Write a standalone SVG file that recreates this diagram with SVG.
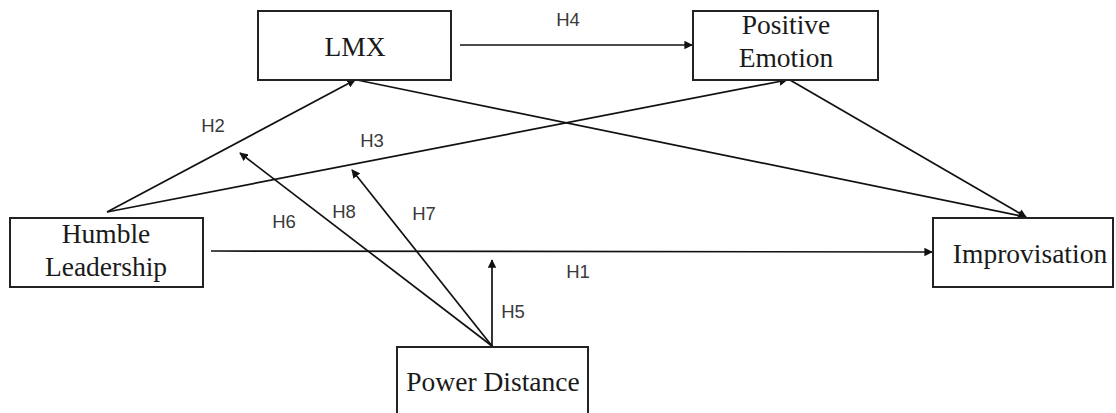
<svg xmlns="http://www.w3.org/2000/svg" width="1116" height="413" viewBox="0 0 1116 413">
<style>
.box{fill:#fff;stroke:#222;stroke-width:2}
.t{font-family:"Liberation Serif","Times New Roman",serif;font-size:27.5px;fill:#1a1a1a;text-anchor:middle}
.lbl{font-family:"Liberation Sans",Arial,sans-serif;font-size:18.5px;fill:#3a3a3a;text-anchor:middle}
.c{stroke:#111;stroke-width:1.7;fill:none;marker-end:url(#ah)}
</style>
<defs>
<marker id="ah" viewBox="0 0 10 10" refX="9" refY="5" markerWidth="5" markerHeight="5" orient="auto" markerUnits="strokeWidth">
<path d="M0,0 L10,5 L0,10 z" fill="#111"/>
</marker>
</defs>
<rect width="1116" height="413" fill="#fff"/>
<g id="connectors">
<line class="c" x1="460" y1="45" x2="692" y2="45"/>
<line class="c" x1="107" y1="212" x2="355" y2="80"/>
<line class="c" x1="107" y1="212" x2="787" y2="80"/>
<line class="c" x1="357" y1="80" x2="1026" y2="217"/>
<line class="c" x1="790" y1="80" x2="1026" y2="217"/>
<line class="c" x1="211" y1="251" x2="932" y2="252"/>
<line class="c" x1="492" y1="346" x2="492" y2="260"/>
<line class="c" x1="492" y1="346" x2="240" y2="153"/>
<line class="c" x1="492" y1="346" x2="352" y2="170"/>
</g>
<g id="labels">
<text class="lbl" x="568" y="26">H4</text>
<text class="lbl" x="213" y="132">H2</text>
<text class="lbl" x="372" y="147">H3</text>
<text class="lbl" x="284" y="228">H6</text>
<text class="lbl" x="344" y="218">H8</text>
<text class="lbl" x="424" y="220">H7</text>
<text class="lbl" x="578" y="278">H1</text>
<text class="lbl" x="513" y="318">H5</text>
</g>
<g id="lmx">
<rect class="box" x="258" y="11" width="193" height="69"/>
<text class="t" x="355" y="56">LMX</text>
</g>
<g id="positive-emotion">
<rect class="box" x="693" y="11" width="185" height="69"/>
<text class="t" x="786" y="34">Positive</text>
<text class="t" x="786" y="67">Emotion</text>
</g>
<g id="humble-leadership">
<rect class="box" x="10" y="218" width="193" height="69"/>
<text class="t" x="106" y="243">Humble</text>
<text class="t" x="106" y="276">Leadership</text>
</g>
<g id="improvisation">
<rect class="box" x="933" y="218" width="180" height="69"/>
<text class="t" x="1030" y="263">Improvisation</text>
</g>
<g id="power-distance">
<rect class="box" x="397" y="347" width="191" height="80"/>
<text class="t" x="493" y="391">Power Distance</text>
</g>
</svg>
